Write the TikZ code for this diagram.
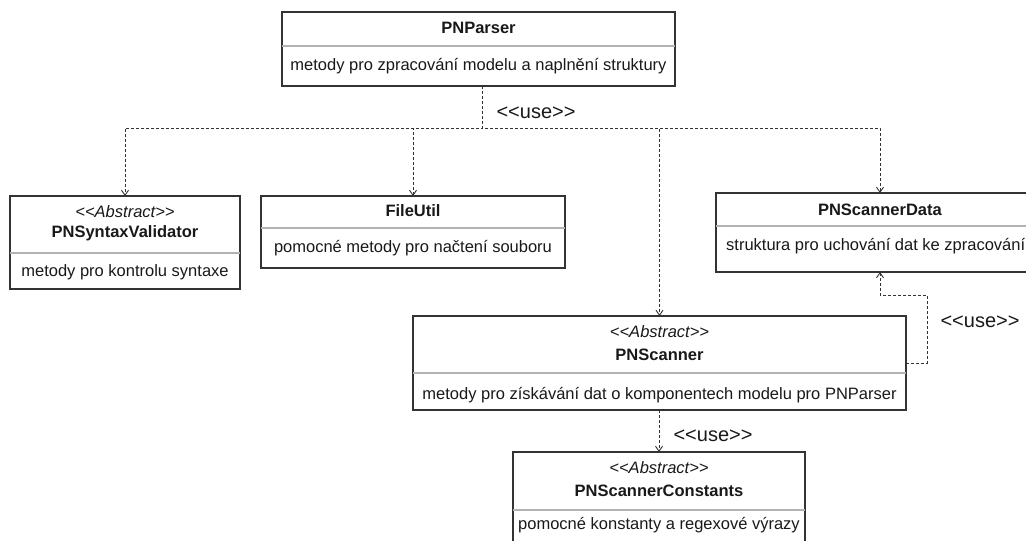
\documentclass[tikz,border=0pt]{standalone}
\usepackage{fontspec}
\setmainfont{Liberation Sans}
\usetikzlibrary{arrows.meta}
\newcommand{\abst}{\textit{<\kern0pt<Abstract>\kern0pt>}}
\newcommand{\usetxt}{<\kern0pt<use>\kern0pt>}
\begin{document}
\begin{tikzpicture}[x=1pt,y=-1pt,
  box/.style={draw=black!80, line width=1.3pt, fill=white, inner sep=0pt, outer sep=0pt},
  div/.style={draw=black!30, line width=1.2pt},
  txt/.style={font=\fontsize{16.5}{18}\selectfont, inner sep=0pt, text=black!90},
  lbl/.style={font=\fontsize{20}{22}\selectfont, inner sep=0pt, text=black!90},
  dep/.style={draw=black!80, line width=0.9pt, dash pattern=on 3pt off 2pt,
              -{Straight Barb[length=5pt,width=7pt]}}]
\useasboundingbox (0,0) rectangle (1026,541);
\clip (0,0) rectangle (1026,541);
\fill[white] (0,0) rectangle (1026,541);

% PNParser
\node[box, minimum width=393pt, minimum height=74pt] (parser) at (478.5,49) {};
\draw[div] (parser.west |- 0,46) -- (parser.east |- 0,46);
\node[txt] (parserN) at (478.5,28) {\textbf{PNParser}};
\node[txt] (parserM) at (478.5,66) {metody pro zpracování modelu a naplnění struktury};

% PNSyntaxValidator
\node[box, minimum width=230pt, minimum height=93pt] (syntax) at (125,242.5) {};
\draw[div] (syntax.west |- 0,253) -- (syntax.east |- 0,253);
\node[txt] (syntaxA) at (125,212) {\abst};
\node[txt] (syntaxN) at (125,233) {\textbf{PNSyntaxValidator}};
\node[txt] (syntaxM) at (125,272) {metody pro kontrolu syntaxe};

% FileUtil
\node[box, minimum width=304pt, minimum height=72pt] (fileutil) at (413,232) {};
\draw[div] (fileutil.west |- 0,228) -- (fileutil.east |- 0,228);
\node[txt] (fileutilN) at (413,211) {\textbf{FileUtil}};
\node[txt] (fileutilM) at (413,248) {pomocné metody pro načtení souboru};

% PNScannerData
\node[box, minimum width=328pt, minimum height=79pt] (sdata) at (880,232.5) {};
\draw[div] (sdata.west |- 0,226) -- (sdata.east |- 0,226);
\node[txt] (sdataN) at (880,210) {\textbf{PNScannerData}};
\node[txt, anchor=west] (sdataM) at (726,246) {struktura pro uchování dat ke zpracování};

% PNScanner
\node[box, minimum width=493pt, minimum height=94pt] (scanner) at (659.5,363) {};
\draw[div] (scanner.west |- 0,373) -- (scanner.east |- 0,373);
\node[txt] (scannerA) at (659.5,332) {\abst};
\node[txt] (scannerN) at (659.5,355) {\textbf{PNScanner}};
\node[txt] (scannerM) at (659.5,395) {metody pro získávání dat o komponentech modelu pro PNParser};

% PNScannerConstants
\node[box, minimum width=292pt, minimum height=100pt] (sconst) at (659,502) {};
\draw[div] (sconst.west |- 0,510) -- (sconst.east |- 0,510);
\node[txt] (sconstA) at (659,468) {\abst};
\node[txt] (sconstN) at (659,491) {\textbf{PNScannerConstants}};
\node[txt] (sconstM) at (659,525) {pomocné konstanty a regexové výrazy};

% connectors
\coordinate (j) at (482,128);
\coordinate (bend) at (927,295);
\draw[dep] (parser.south -| j) -- (j) -| (syntax.north);
\draw[dep] (parser.south -| j) -- (j) -| (fileutil.north);
\draw[dep] (parser.south -| j) -- (j) -| (scanner.north);
\draw[dep] (parser.south -| j) -- (j) -| (sdata.north);
\draw[dep] (scanner.south -| sconst.north) -- (sconst.north);
\draw[dep] (scanner.east |- 0,363) -| (bend) -| (sdata.south);

% labels
\node[lbl] (use1) at (536,113) {\usetxt};
\node[lbl] (use2) at (980,322) {\usetxt};
\node[lbl] (use3) at (713,436) {\usetxt};
\end{tikzpicture}
\end{document}
